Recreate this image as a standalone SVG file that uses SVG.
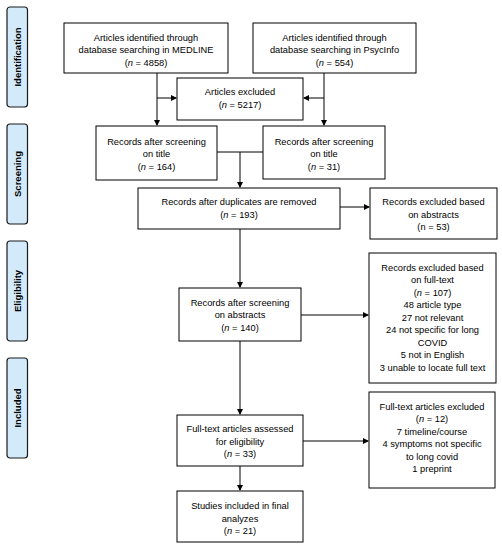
<svg xmlns="http://www.w3.org/2000/svg" width="502" height="550" viewBox="0 0 502 550">
<style>
.box{fill:#fff;stroke:#000;stroke-width:1}
.side{fill:#d3eafb;stroke:#1a1a1a;stroke-width:1.2}
.t{font-family:"Liberation Sans",Arial,sans-serif;font-size:9.3px;fill:#000;text-anchor:middle}
.s{font-family:"Liberation Sans",Arial,sans-serif;font-size:9.5px;font-weight:bold;fill:#000;text-anchor:middle}
.c{fill:none;stroke:#000;stroke-width:1}
</style>
<defs>
<marker id="ah" markerWidth="6" markerHeight="6" refX="5" refY="3" orient="auto" markerUnits="userSpaceOnUse">
<path d="M0,0 L6,3 L0,6 Z" fill="#000"/>
</marker>
</defs>
<g id="side-identification"><rect class="side" x="7" y="7" width="20.5" height="100" rx="3"/><text class="s" transform="translate(20.5,57) rotate(-90)">Identification</text></g>
<g id="side-screening"><rect class="side" x="7" y="124" width="20.5" height="100" rx="3"/><text class="s" transform="translate(20.5,174) rotate(-90)">Screening</text></g>
<g id="side-eligibility"><rect class="side" x="7" y="241" width="20.5" height="100" rx="3"/><text class="s" transform="translate(20.5,291) rotate(-90)">Eligibility</text></g>
<g id="side-included"><rect class="side" x="7" y="358" width="20.5" height="100" rx="3"/><text class="s" transform="translate(20.5,408) rotate(-90)">Included</text></g>

<g id="connectors">
<path class="c" d="M157,73 V125" marker-end="url(#ah)"/>
<path class="c" d="M157,98 H176" marker-end="url(#ah)"/>
<path class="c" d="M324,73 V125" marker-end="url(#ah)"/>
<path class="c" d="M324,98 H304" marker-end="url(#ah)"/>
<path class="c" d="M217,152 H263"/>
<path class="c" d="M240,152 V187" marker-end="url(#ah)"/>
<path class="c" d="M240,229 V287" marker-end="url(#ah)"/>
<path class="c" d="M340,207 H369" marker-end="url(#ah)"/>
<path class="c" d="M240,341 V414" marker-end="url(#ah)"/>
<path class="c" d="M301,315 H368" marker-end="url(#ah)"/>
<path class="c" d="M240,466 V490" marker-end="url(#ah)"/>
<path class="c" d="M303,441 H368" marker-end="url(#ah)"/>
</g>

<g id="medline"><rect class="box" x="64" y="23" width="164" height="50"/>
<text class="t" x="146" y="40.5">Articles identified through</text>
<text class="t" x="146" y="53">database searching in MEDLINE</text>
<text class="t" x="146" y="65.5">(<tspan font-style="italic">n</tspan> = 4858)</text></g>

<g id="psycinfo"><rect class="box" x="253" y="23" width="163" height="50"/>
<text class="t" x="334.5" y="40.5">Articles identified through</text>
<text class="t" x="334.5" y="53">database searching in PsycInfo</text>
<text class="t" x="334.5" y="65.5">(<tspan font-style="italic">n</tspan> = 554)</text></g>

<g id="excluded-5217"><rect class="box" x="177" y="78" width="126" height="42"/>
<text class="t" x="240" y="95">Articles excluded</text>
<text class="t" x="240" y="107.5">(<tspan font-style="italic">n</tspan> = 5217)</text></g>

<g id="screen-title-left"><rect class="box" x="96" y="126" width="121" height="54"/>
<text class="t" x="156.5" y="144.5">Records after screening</text>
<text class="t" x="156.5" y="157">on title</text>
<text class="t" x="156.5" y="169.5">(<tspan font-style="italic">n</tspan> = 164)</text></g>

<g id="screen-title-right"><rect class="box" x="263" y="126" width="122" height="53"/>
<text class="t" x="324" y="144.5">Records after screening</text>
<text class="t" x="324" y="157">on title</text>
<text class="t" x="324" y="169.5">(<tspan font-style="italic">n</tspan> = 31)</text></g>

<g id="duplicates"><rect class="box" x="138" y="188" width="202" height="41"/>
<text class="t" x="239" y="205">Records after duplicates are removed</text>
<text class="t" x="239" y="217.5">(<tspan font-style="italic">n</tspan> = 193)</text></g>

<g id="excluded-abstracts"><rect class="box" x="370" y="188" width="127" height="51"/>
<text class="t" x="433.5" y="205">Records excluded based</text>
<text class="t" x="433.5" y="217.5">on abstracts</text>
<text class="t" x="433.5" y="230">(n = 53)</text></g>

<g id="screen-abstracts"><rect class="box" x="179" y="288" width="122" height="53"/>
<text class="t" x="240" y="305.5">Records after screening</text>
<text class="t" x="240" y="318">on abstracts</text>
<text class="t" x="240" y="330.5">(<tspan font-style="italic">n</tspan> = 140)</text></g>

<g id="excluded-fulltext"><rect class="box" x="369" y="253" width="127" height="130"/>
<text class="t" x="432.5" y="270.5">Records excluded based</text>
<text class="t" x="432.5" y="283">on full-text</text>
<text class="t" x="432.5" y="295.5">(<tspan font-style="italic">n</tspan> = 107)</text>
<text class="t" x="432.5" y="308">48 article type</text>
<text class="t" x="432.5" y="320.5">27 not relevant</text>
<text class="t" x="432.5" y="333">24 not specific for long</text>
<text class="t" x="432.5" y="345.5">COVID</text>
<text class="t" x="432.5" y="358">5 not in English</text>
<text class="t" x="432.5" y="370.5">3 unable to locate full text</text></g>

<g id="fulltext-assessed"><rect class="box" x="177" y="415" width="126" height="51"/>
<text class="t" x="240" y="432">Full-text articles assessed</text>
<text class="t" x="240" y="444.5">for eligibility</text>
<text class="t" x="240" y="457">(<tspan font-style="italic">n</tspan> = 33)</text></g>

<g id="studies-included"><rect class="box" x="177" y="491" width="126" height="51"/>
<text class="t" x="240" y="509">Studies included in final</text>
<text class="t" x="240" y="521.5">analyzes</text>
<text class="t" x="240" y="534">(<tspan font-style="italic">n</tspan> = 21)</text></g>

<g id="fulltext-excluded"><rect class="box" x="369" y="392" width="126" height="96"/>
<text class="t" x="432" y="409.5">Full-text articles excluded</text>
<text class="t" x="432" y="422">(<tspan font-style="italic">n</tspan> = 12)</text>
<text class="t" x="432" y="434.5">7 timeline/course</text>
<text class="t" x="432" y="447">4 symptoms not specific</text>
<text class="t" x="432" y="459.5">to long covid</text>
<text class="t" x="432" y="472">1 preprint</text></g>
</svg>
